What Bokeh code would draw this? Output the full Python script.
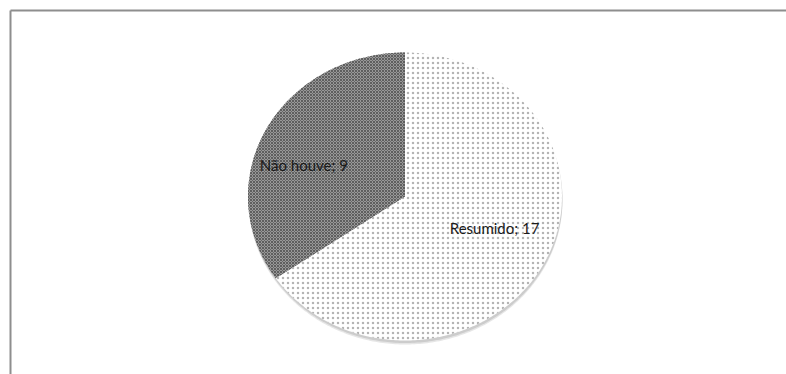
import numpy as np
from bokeh.plotting import figure
from bokeh.models import Range1d, ColumnDataSource
from bokeh.core.properties import value
from bokeh.embed import file_html
from bokeh.resources import INLINE

# ---- data ----
categories = ["Resumido", "Não houve"]
values = [17, 9]
labels = [f"{c}; {v}" for c, v in zip(categories, values)]

# ---- style / layout ----
W, H = 786, 374
CX, CY = 404.5, 196.0      # pie centre (pixels)
RX, RY = 157.0, 144.0      # pie radii (pixels)
fills = ["#ffffff", "#989898"]
hatches = ["dot", "diagonal_cross"]
hatch_colors = ["#b4b4b4", "#5e5e5e"]
hatch_scales = [5, 3]
label_r = [0.61, 0.68]           # radial factor of label position
label_tweak = [7.0, 9.0]         # degrees toward horizontal

p = figure(width=W, height=H, x_range=Range1d(0, W), y_range=Range1d(H, 0),
           output_backend="svg", toolbar_location=None, min_border=0,
           background_fill_color="white", border_fill_color="white")
p.axis.visible = False
p.grid.visible = False
p.outline_line_color = None

# frame (top and left edges)
p.segment(x0=[10, 10], y0=[10, 10], x1=[W, 10], y1=[10, H],
          line_color="#8e8e8e", line_width=2)

# shadow
t = np.linspace(0, 2 * np.pi, 400)
for off, alpha in [(4.0, 0.25), (2.5, 0.35)]:
    p.patch(CX + 0.5 + RX * np.cos(t), CY + off + RY * np.sin(t),
            fill_color="#9a9a9a", fill_alpha=alpha, line_color=None)

# slices: start at 12 o'clock, clockwise
total = float(sum(values))
start = np.pi / 2
lab_x, lab_y = [], []
for i, v in enumerate(values):
    sweep = 2 * np.pi * v / total
    a0, a1 = start, start - sweep
    tt = np.linspace(a0, a1, 300)
    xs = np.concatenate([[CX], CX + RX * np.cos(tt)])
    ys = np.concatenate([[CY], CY - RY * np.sin(tt)])
    p.patch(xs, ys, fill_color=fills[i], line_color=None,
            hatch_pattern=hatches[i], hatch_color=hatch_colors[i],
            hatch_scale=hatch_scales[i], hatch_weight=1)
    mid = (a0 + a1) / 2
    # nudge toward the horizontal axis
    deg = np.degrees(mid)
    if np.cos(mid) >= 0:
        deg = deg + label_tweak[i] if np.sin(mid) < 0 else deg - label_tweak[i]
    else:
        deg = deg + label_tweak[i] if np.sin(mid) > 0 else deg - label_tweak[i]
    m = np.radians(deg)
    lab_x.append(CX + label_r[i] * RX * np.cos(m))
    lab_y.append(CY - label_r[i] * RY * np.sin(m))
    start = a1

src = ColumnDataSource(dict(x=lab_x, y=lab_y, text=labels))
p.text(x="x", y="y", text="text", source=src, text_font=value("Lato"),
       text_font_size="15px", text_color="#1a1a1a",
       text_align="center", text_baseline="middle")

open("out.html", "w").write(file_html(p, INLINE))
